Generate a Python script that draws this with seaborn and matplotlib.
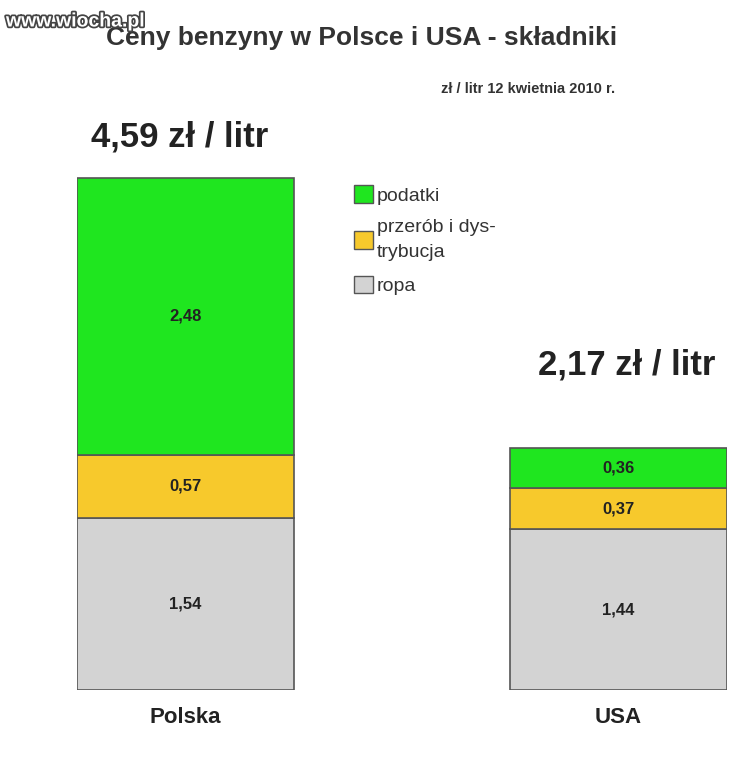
import matplotlib
matplotlib.use("Agg")
import matplotlib.pyplot as plt
import matplotlib.patheffects as pe
from matplotlib.patches import Patch
import numpy as np
import seaborn as sns

sns.set_style("white")
plt.rcParams["font.family"] = ["Liberation Sans", "DejaVu Sans"]

countries = ["Polska", "USA"]
totals = ["4,59 zł / litr", "2,17 zł / litr"]
components = ["ropa", "przerób i dys-\ntrybucja", "podatki"]
ropa = [1.54, 1.44]
przerob = [0.57, 0.37]
podatki = [2.48, 0.36]
colors = ["#d3d3d3", "#f7c92c", "#1fe61f"]

W, H = 741, 758
fig = plt.figure(figsize=(W / 100, H / 100), dpi=100)
# axes: x from px 77 to 727, y from px 690 (value 0) up to px 100
ax = fig.add_axes([77 / W, (H - 690) / H, 650 / W, 590 / H])
scale = (690 - 178) / 4.59
ax.set_xlim(-0.25, 1.25)
ax.set_ylim(0, 590 / scale)
ax.axis("off")

x = np.arange(len(countries))
bottom = np.zeros(len(countries))
for vals, c in zip([ropa, przerob, podatki], colors):
    ax.bar(x, vals, width=0.5, bottom=bottom, color=c, edgecolor="#555555", linewidth=1.2)
    for xi, b, v in zip(x, bottom, vals):
        ax.text(xi, b + v / 2, f"{v:.2f}".replace(".", ","), ha="center", va="center",
                fontsize=12, fontweight="bold", color="#222222")
    bottom += np.array(vals)

# total labels (Polska above bar, USA higher above its bar)
for t, px, py in zip(totals, [180, 627], [137, 365]):
    fig.text(px / W, 1 - py / H, t, ha="center", va="center",
             fontsize=25, fontweight="bold", color="#222222")
for xi, name in zip(x, countries):
    ax.text(xi, -0.25, name, ha="center", va="center", fontsize=16, fontweight="bold", color="#222222")

fig.text(362 / W, 1 - 38 / H, "Ceny benzyny w Polsce i USA - składniki", ha="center", va="center",
         fontsize=19, fontweight="bold", color="#333333")
fig.text(528 / W, 1 - 89 / H, "zł / litr 12 kwietnia 2010 r.", ha="center", va="center",
         fontsize=10.5, fontweight="bold", color="#333333")
fig.text(6 / W, 1 - 22 / H, "www.wiocha.pl", ha="left", va="center", fontsize=14, fontweight="bold",
         color="white", path_effects=[pe.withStroke(linewidth=2.5, foreground="#444444")])

handles = [Patch(facecolor=c, edgecolor="#555555", label=l) for c, l in zip(colors[::-1], components[::-1])]
leg = fig.legend(handles=handles, loc="upper left", bbox_to_anchor=(336 / W, 1 - 168 / H), frameon=False,
                 fontsize=14, handlelength=1.0, handleheight=1.0, handletextpad=0.2, labelspacing=0.75,
                 labelcolor="#333333")
for t in leg.get_texts():
    t.set_linespacing(1.6)

fig.savefig("out.png", dpi=100, facecolor="white")
